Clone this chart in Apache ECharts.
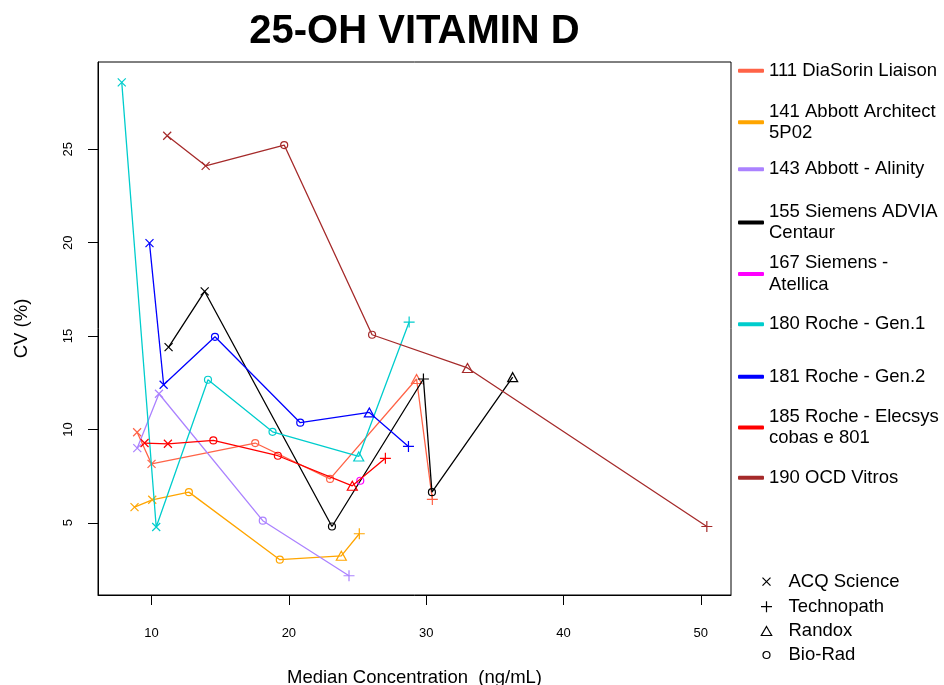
<!DOCTYPE html>
<html>
<head>
<meta charset="utf-8">
<script src="https://cdn.jsdelivr.net/npm/echarts@6/dist/echarts.min.js"></script>
<style>
html,body{margin:0;padding:0;background:#fff;}
#chart{width:944px;height:685px;}
</style>
</head>
<body>
<div id="chart"></div>
<script>
// ---------------- DATA ----------------
const chartTitle = '25-OH VITAMIN D';
const xAxisTitle = 'Median Concentration  (ng/mL)';
const yAxisTitle = 'CV (%)';
const xTicks = [10, 20, 30, 40, 50];
const yTicks = [5, 10, 15, 20, 25];

const seriesNames = [
  '111 DiaSorin Liaison',
  '141 Abbott Architect 5P02',
  '143 Abbott - Alinity',
  '155 Siemens ADVIA Centaur',
  '167 Siemens - Atellica',
  '180 Roche - Gen.1',
  '181 Roche - Gen.2',
  '185 Roche - Elecsys cobas e 801',
  '190 OCD Vitros'
];
const legendLabels = [
  '111 DiaSorin Liaison',
  '141 Abbott Architect\n5P02',
  '143 Abbott - Alinity',
  '155 Siemens ADVIA\nCentaur',
  '167 Siemens -\nAtellica',
  '180 Roche - Gen.1',
  '181 Roche - Gen.2',
  '185 Roche - Elecsys\ncobas e 801',
  '190 OCD Vitros'
];
const materialNames = ['ACQ Science', 'Technopath', 'Randox', 'Bio-Rad'];

// x = median concentration, y = CV (%), m = control material (ACQ / TEC / RAN / BIO)
const x111 = [8.95, 10.0, 17.55, 23.0, 29.3, 30.45];
const y111 = [9.85, 8.15, 9.27, 7.35, 12.7, 6.25];
const m111 = ['ACQ', 'ACQ', 'BIO', 'BIO', 'RAN', 'TEC'];

const x141 = [8.76, 10.05, 12.72, 19.34, 23.82, 25.13];
const y141 = [5.84, 6.23, 6.64, 3.02, 3.23, 4.41];
const m141 = ['ACQ', 'ACQ', 'BIO', 'BIO', 'RAN', 'TEC'];

const x143 = [8.96, 10.54, 18.1, 24.38];
const y143 = [9.0, 11.91, 5.11, 2.16];
const m143 = ['ACQ', 'ACQ', 'BIO', 'TEC'];

const x155 = [11.24, 13.87, 23.14, 29.8, 30.42, 36.3];
const y155 = [14.41, 17.39, 4.80, 12.70, 6.64, 12.8];
const m155 = ['ACQ', 'ACQ', 'BIO', 'TEC', 'BIO', 'RAN'];

const x167 = [25.2];
const y167 = [7.25];
const m167 = ['BIO'];

const x180 = [7.83, 10.34, 14.11, 18.81, 25.09, 28.76];
const y180 = [28.59, 4.77, 12.66, 9.87, 8.55, 15.75];
const m180 = ['ACQ', 'ACQ', 'BIO', 'BIO', 'RAN', 'TEC'];

const x181 = [9.85, 10.88, 14.62, 20.83, 25.86, 28.71];
const y181 = [19.98, 12.39, 14.96, 10.36, 10.91, 9.09];
const m181 = ['ACQ', 'ACQ', 'BIO', 'BIO', 'RAN', 'TEC'];

const x185 = [9.49, 11.19, 14.5, 19.2, 24.62, 27.03];
const y185 = [9.27, 9.23, 9.41, 8.59, 6.98, 8.45];
const m185 = ['ACQ', 'ACQ', 'BIO', 'BIO', 'RAN', 'TEC'];

const x190 = [11.14, 13.94, 19.66, 26.06, 33.01, 50.44];
const y190 = [25.73, 24.12, 25.23, 15.07, 13.29, 4.80];
const m190 = ['ACQ', 'ACQ', 'BIO', 'BIO', 'RAN', 'TEC'];

// ---------------- STYLE ----------------
const seriesColors = ['#FF6347', '#FFA500', '#AB82FF', '#000000', '#FF00FF', '#00CDCD', '#0000FF', '#FF0000', '#A52A2A'];
const FONT = 'Liberation Sans, Arial, Helvetica, sans-serif';

const markerCodes = ['ACQ', 'TEC', 'RAN', 'BIO'];
const markerSymbol = {
  ACQ: 'path://M0,0L10,10M0,10L10,0',
  TEC: 'path://M5,0L5,10M0,5L10,5',
  RAN: 'path://M5,0L10,8.66L0,8.66Z',
  BIO: 'circle'
};
const markerSize = { ACQ: 8, TEC: 11, RAN: [10, 9], BIO: 7 };
const markerLegendSize = { ACQ: 8, TEC: 11, RAN: 9, BIO: 7 };
const markerLegendWidth = { ACQ: 8, TEC: 11, RAN: 10.4, BIO: 7 };

// legend layout (vertical centers, px)
const legendCenters = [70.7, 122.3, 169.3, 222.5, 274, 324.3, 376.7, 427.5, 477.7];
const markerLegendCenters = [581.7, 606.7, 631, 655];
const markerLegendX = 764;
const LINE_H = 21.5;

const xs = [x111, x141, x143, x155, x167, x180, x181, x185, x190];
const ys = [y111, y141, y143, y155, y167, y180, y181, y185, y190];
const ms = [m111, m141, m143, m155, m167, m180, m181, m185, m190];

const series = seriesNames.map((name, k) => {
  const c = seriesColors[k];
  return {
    type: 'line',
    name: name,
    data: xs[k].map((x, i) => ({
      value: [x, ys[k][i]],
      symbol: markerSymbol[ms[k][i]],
      symbolSize: markerSize[ms[k][i]]
    })),
    lineStyle: { color: c, width: 1.3 },
    itemStyle: { color: 'none', borderColor: c, borderWidth: 1.2 },
    emphasis: { disabled: true },
    animation: false,
    z: 2 + k
  };
});
materialNames.forEach((name) => {
  series.push({
    type: 'line', name: name, data: [],
    lineStyle: { color: '#000' },
    itemStyle: { color: 'none', borderColor: '#000', borderWidth: 1.2 },
    animation: false
  });
});

const legends = [];
seriesNames.forEach((name, k) => {
  const lines = legendLabels[k].split('\n').length;
  legends.push({
    orient: 'vertical',
    left: 738,
    top: legendCenters[k] - lines * LINE_H / 2,
    padding: 0,
    icon: 'roundRect',
    itemWidth: 26,
    itemHeight: 4,
    selectedMode: false,
    data: [{ name: name, itemStyle: { color: seriesColors[k], borderWidth: 0 } }],
    formatter: () => legendLabels[k],
    textStyle: { fontFamily: FONT, fontSize: 18.5, color: '#000', lineHeight: LINE_H }
  });
});
materialNames.forEach((name, k) => {
  const code = markerCodes[k];
  legends.push({
    orient: 'vertical',
    left: markerLegendX - markerLegendWidth[code] / 2,
    top: markerLegendCenters[k] - 10,
    padding: 0,
    itemWidth: 34,
    itemHeight: markerLegendSize[code],
    symbolKeepAspect: true,
    selectedMode: false,
    data: [{ name: name, icon: markerSymbol[code], itemStyle: { color: 'none', borderColor: '#000', borderWidth: 1.2 } }],
    textStyle: { fontFamily: FONT, fontSize: 18.5, color: '#000', lineHeight: 20 }
  });
});

const chart = echarts.init(document.getElementById('chart'), null, { renderer: 'canvas' });
chart.setOption({
  animation: false,
  backgroundColor: '#ffffff',
  title: {
    text: chartTitle,
    left: 414.5,
    top: 12,
    padding: 0,
    textAlign: 'center',
    textStyle: { fontFamily: FONT, fontSize: 40, fontWeight: 'bold', color: '#000' }
  },
  grid: {
    left: 98, top: 62, width: 633, height: 533,
    show: true, borderColor: '#000', borderWidth: 1, backgroundColor: 'transparent',
    containLabel: false, outerBoundsMode: 'none'
  },
  xAxis: {
    type: 'value', min: 6.1, max: 52.2,
    name: xAxisTitle, nameLocation: 'middle', nameGap: 73,
    nameTextStyle: { fontFamily: FONT, fontSize: 18.5, color: '#000' },
    axisLine: { show: true, onZero: false, lineStyle: { color: '#000', width: 1 } },
    axisTick: { show: true, inside: false, length: 10, lineStyle: { color: '#000', width: 1 }, customValues: xTicks },
    axisLabel: { show: true, customValues: xTicks, margin: 32, fontFamily: FONT, fontSize: 13, color: '#000' },
    splitLine: { show: false }
  },
  yAxis: {
    type: 'value', min: 1.13, max: 29.68,
    name: yAxisTitle, nameLocation: 'middle', nameGap: 67, nameRotate: 90,
    nameTextStyle: { fontFamily: FONT, fontSize: 18.5, color: '#000' },
    axisLine: { show: true, onZero: false, lineStyle: { color: '#000', width: 1 } },
    axisTick: { show: true, inside: false, length: 10, lineStyle: { color: '#000', width: 1 }, customValues: yTicks },
    axisLabel: { show: true, customValues: yTicks, rotate: 90, margin: 23, fontFamily: FONT, fontSize: 13, color: '#000' },
    splitLine: { show: false }
  },
  legend: legends,
  series: series
});
</script>
</body>
</html>
